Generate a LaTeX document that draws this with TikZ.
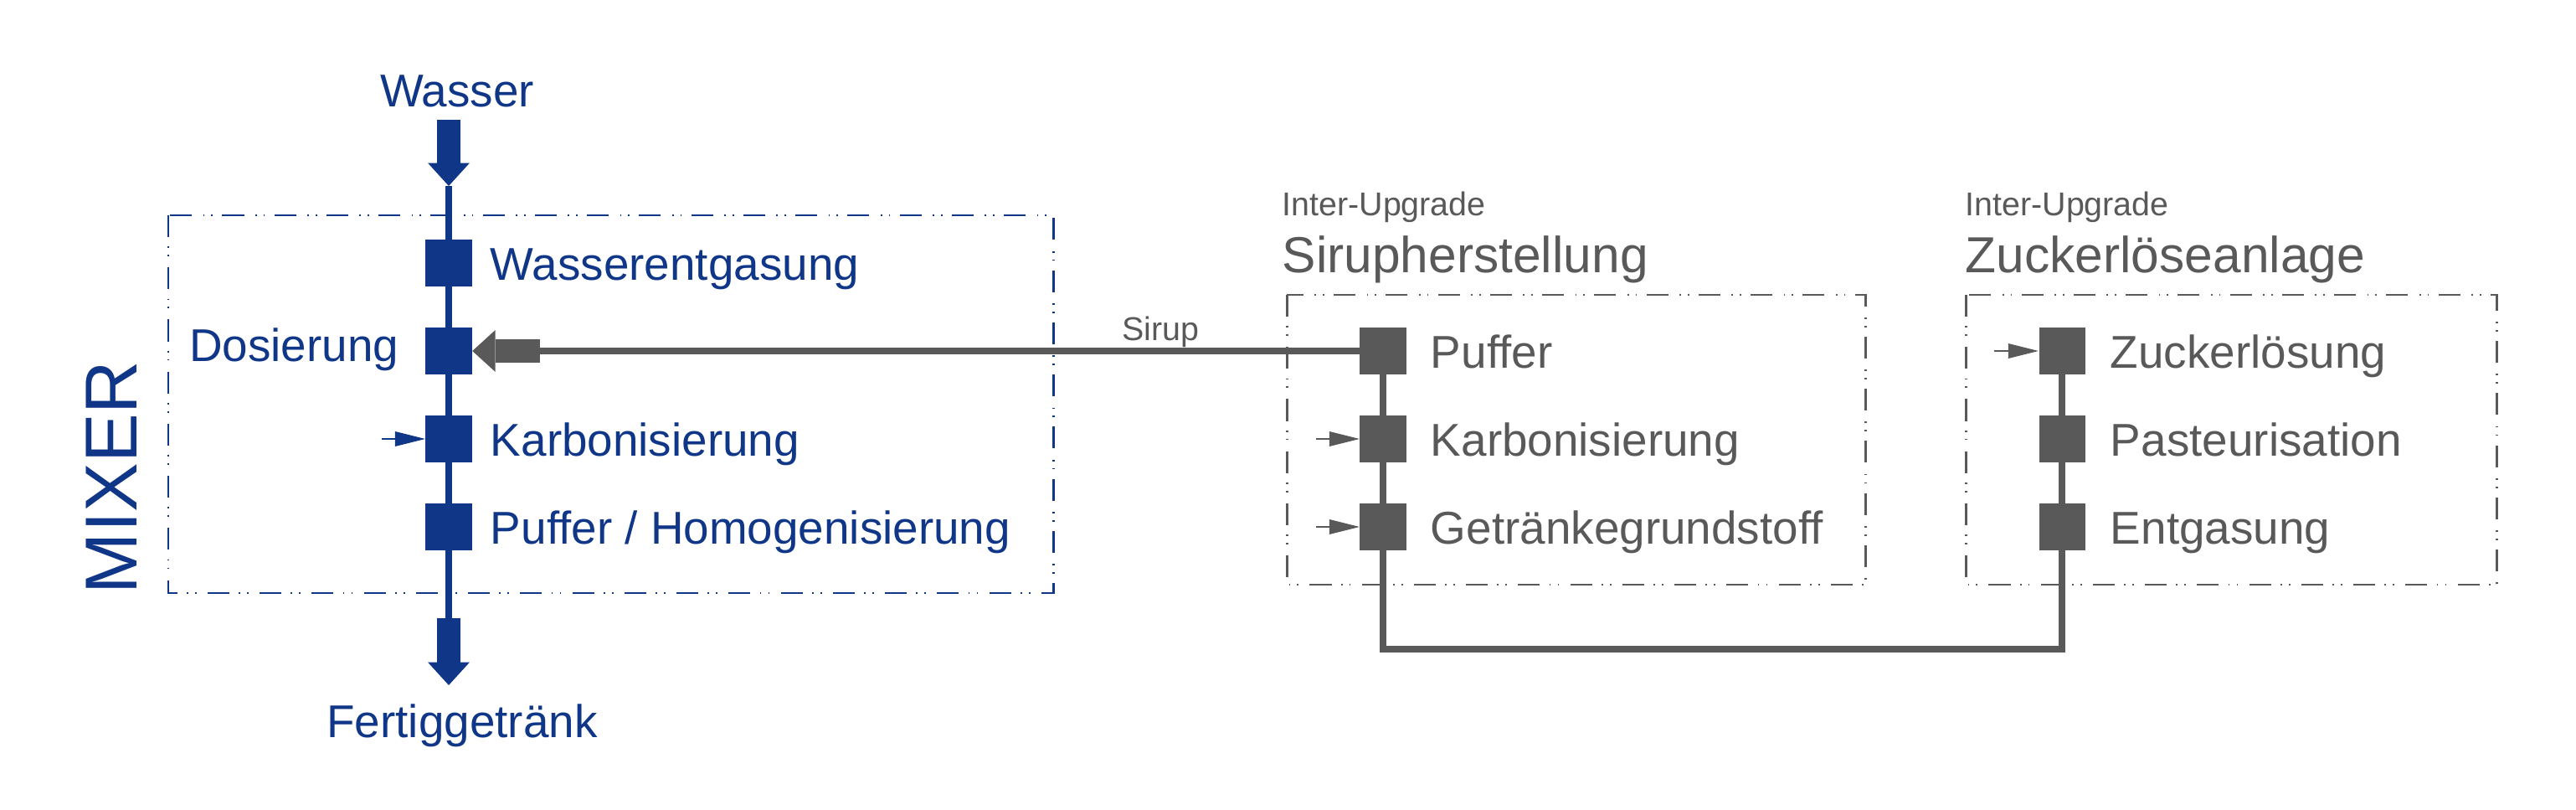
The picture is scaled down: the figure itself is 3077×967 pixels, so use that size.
\documentclass[tikz,border=0pt]{standalone}
\usepackage{fontspec}
\setmainfont{Liberation Sans}
\usetikzlibrary{arrows.meta}
\definecolor{mixblue}{RGB}{16,54,136}
\definecolor{upgray}{RGB}{89,89,89}

\begin{document}
\begin{tikzpicture}[x=0.01cm,y=-0.01cm,
  unit/.style={fill=#1,minimum size=0.55cm,inner sep=0pt},
  lbl/.style={text=#1,inner sep=0pt,font=\fontsize{15.6}{18}\selectfont},
  head/.style={text=upgray,inner sep=0pt,font=\fontsize{17.2}{20}\selectfont},
  small/.style={text=upgray,inner sep=0pt,font=\fontsize{11.2}{13}\selectfont},
  frame/.style={draw=#1,line width=0.85pt,dash pattern=on 7.4pt off 3.2pt on 0.5pt off 2.3pt on 0.5pt off 3.8pt},
  pipe/.style={draw=#1,line width=2.1pt},
  fat/.style={draw=#1,line width=8.2pt,-{Triangle[length=7.8pt,width=14.2pt,line width=0pt]}},
  feed/.style={draw=#1,line width=0.85pt,-{Triangle[length=10.2pt,width=5.1pt,line width=0pt]}}]
\useasboundingbox (0,0) rectangle (3077,967);

% Mixer
\draw[frame=mixblue] (201,257) rectangle (1258,708);
\node[text=mixblue,inner sep=0pt,rotate=90,font=\fontsize{25}{30}\selectfont] (mixer) at (133,570) {MIXER};
\foreach \n/\y in {wb/314,dos/419,karb/524,puff/629}
  \node[unit=mixblue] (\n) at (536,\y) {};
\foreach \n/\t in {wb/Wasserentgasung,karb/Karbonisierung,puff/{Puffer / Homogenisierung}}
  \node[lbl=mixblue,anchor=base west] (\n-t) at ([xshift=0.21cm,yshift=-0.2cm]\n.east) {\t};
\node[lbl=mixblue,anchor=base east] (dos-t) at (477,432) {Dosierung};
\node[lbl=mixblue,anchor=base] (wasser) at (546,128) {Wasser};
\node[lbl=mixblue,anchor=base] (fertig) at (552,880) {Fertiggetränk};
\coordinate (win) at (536,143);
\coordinate (wend) at (536,222);
\coordinate (fbeg) at (536,738);
\coordinate (fout) at (536,818);
\coordinate (kin) at (456,524);
\draw[fat=mixblue] (win) -- (wend);
\draw[fat=mixblue] (fbeg) -- (fout);
\foreach \a/\b in {wend/wb,wb/dos,dos/karb,karb/puff,puff/fbeg}
  \draw[pipe=mixblue] (\a) -- (\b);
\draw[feed=mixblue] (kin) -- (karb);

% Sirupherstellung
\draw[frame=upgray] (1537,352) rectangle (2228,698);
\node[small,anchor=base west] (iu1) at (1531,258) {Inter-Upgrade};
\node[head,anchor=base west] (sirup) at (1531,326) {Sirupherstellung};
\foreach \n/\y in {sp/419,sk/524,sg/629}
  \node[unit=upgray] (\n) at (1652,\y) {};
\foreach \n/\t in {sp/Puffer,sk/Karbonisierung,sg/Getränkegrundstoff}
  \node[lbl=upgray,anchor=base west] (\n-t) at ([xshift=0.28cm,yshift=-0.2cm]\n.east) {\t};
\foreach \a/\b in {sp/sk,sk/sg}
  \draw[pipe=upgray] (\a) -- (\b);
\foreach \n in {sk,sg}
  \draw[feed=upgray] ([xshift=-0.52cm]\n.west) -- (\n);

% Zuckerloeseanlage
\draw[frame=upgray] (2348,352) rectangle (2982,698);
\node[small,anchor=base west] (iu2) at (2347,258) {Inter-Upgrade};
\node[head,anchor=base west] (zucker) at (2347,326) {Zuckerlöseanlage};
\foreach \n/\y in {zz/419,zp/524,ze/629}
  \node[unit=upgray] (\n) at (2463,\y) {};
\foreach \n/\t in {zz/Zuckerlösung,zp/Pasteurisation,ze/Entgasung}
  \node[lbl=upgray,anchor=base west] (\n-t) at ([xshift=0.29cm,yshift=-0.2cm]\n.east) {\t};
\foreach \a/\b in {zz/zp,zp/ze}
  \draw[pipe=upgray] (\a) -- (\b);
\draw[feed=upgray] ([xshift=-0.53cm]zz.west) -- (zz);

% Verbindungen
\coordinate (low) at (2000,775);
\draw[pipe=upgray] (sg) |- (low) -| (ze);
\coordinate (sfat) at (645,419);
\draw[pipe=upgray] (sp) -- (sfat);
\draw[fat=upgray] (sfat) -- (dos);
\node[small,anchor=base west] (siruplbl) at (1340,407) {Sirup};
\end{tikzpicture}
\end{document}
